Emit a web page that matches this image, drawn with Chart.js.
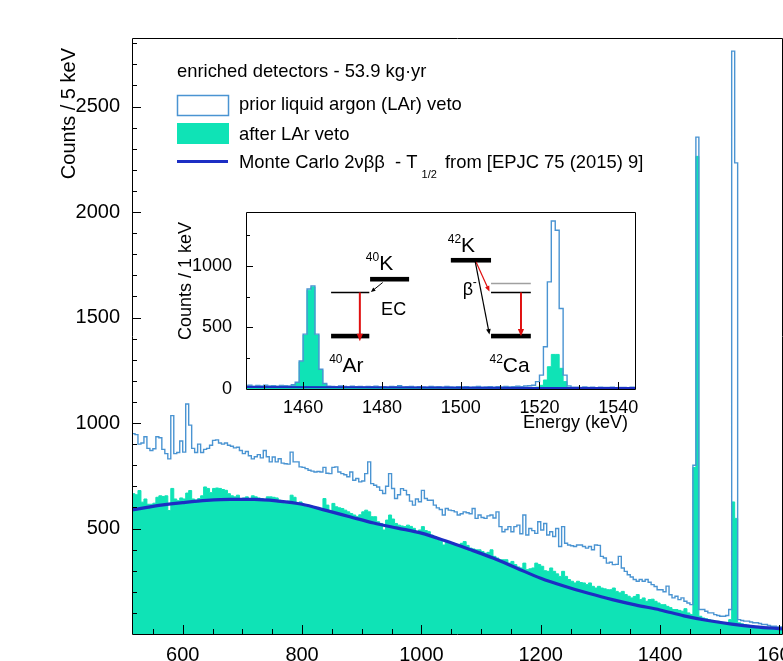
<!DOCTYPE html>
<html>
<head>
<meta charset="utf-8">
<title>Enriched detectors - energy spectrum</title>
<script src="https://cdn.jsdelivr.net/npm/chart.js@4.4.1/dist/chart.umd.min.js"></script>
<style>
  html, body { margin: 0; padding: 0; background: #fff; }
  #wrap { position: relative; width: 783px; height: 661px; overflow: hidden; }
  #mainChart { position: absolute; left: 0; top: 0; }
  #insetChart { position: absolute; left: 140px; top: 195px; }
</style>
</head>
<body>
<div id="wrap">
  <canvas id="mainChart" width="783" height="661"></canvas>
  <canvas id="insetChart" width="510" height="245"></canvas>
</div>
<script>
// main spectrum: 5 keV bins, first bin starts at 515 keV
const binStart = 515;
const binWidth = 5;

// counts / 5 keV before the LAr veto (one row = 10 bins)
const priorCounts = [
  950, 945, 900, 905, 935, 880, 870, 878, 935, 930,    // 515
  875, 855, 830, 1035, 855, 860, 915, 862, 1090, 990,  // 565
  880, 860, 900, 860, 875, 880, 895, 918, 920, 905,    // 615
  900, 905, 895, 890, 882, 885, 870, 855, 865, 845,    // 665
  830, 840, 850, 835, 870, 840, 816, 839, 816, 831,    // 715
  810, 807, 805, 862, 816, 816, 792, 790, 784, 776,    // 765
  772, 768, 770, 768, 790, 762, 760, 790, 792, 768,    // 815
  760, 755, 745, 768, 729, 737, 721, 725, 760, 816,    // 865
  713, 705, 697, 681, 666, 700, 760, 690, 642, 660,    // 915
  689, 681, 660, 630, 611, 640, 627, 681, 642, 634,    // 965
  634, 611, 598, 590, 564, 595, 587, 585, 579, 564,    // 1015
  570, 579, 575, 570, 595, 548, 564, 552, 548, 560,    // 1065
  564, 550, 579, 509, 485, 495, 509, 485, 509, 516,    // 1115
  475, 564, 469, 500, 490, 477, 532, 493, 524, 469,    // 1165
  485, 462, 500, 415, 509, 430, 422, 418, 415, 422,    // 1215
  422, 415, 407, 415, 399, 422, 420, 368, 360, 336,    // 1265
  340, 329, 330, 368, 313, 297, 281, 270, 258, 250,    // 1315
  258, 250, 258, 245, 234, 225, 210, 210, 200, 227,    // 1365
  186, 171, 179, 163, 171, 155, 147, 139, 800, 2355,   // 1415
  116, 116, 108, 100, 100, 92, 88, 84, 84, 88,         // 1465
  116, 2763, 2233, 68, 64, 61, 61, 57, 53, 53,         // 1515
  50, 45, 45, 40, 37, 37, 34, 34, 33                   // 1565
];

// counts / 5 keV after the LAr veto
const vetoCounts = [
  665, 660, 680, 625, 640, 615, 615, 620, 648, 655,    // 515
  652, 655, 585, 690, 640, 632, 645, 640, 668, 680,    // 565
  640, 635, 642, 655, 697, 690, 670, 690, 692, 690,    // 615
  685, 681, 665, 655, 650, 658, 640, 645, 650, 640,    // 665
  655, 650, 645, 642, 634, 650, 650, 648, 645, 634,    // 715
  625, 619, 630, 658, 648, 619, 626, 611, 603, 600,    // 765
  595, 595, 592, 587, 642, 611, 579, 619, 603, 598,    // 815
  595, 587, 579, 571, 564, 556, 565, 579, 587, 579,    // 865
  556, 556, 532, 524, 493, 540, 564, 545, 524, 516,    // 915
  512, 509, 516, 510, 501, 477, 493, 509, 490, 485,    // 965
  469, 462, 446, 440, 422, 438, 434, 430, 422, 415,    // 1015
  430, 438, 420, 407, 403, 399, 399, 391, 383, 387,    // 1065
  399, 368, 360, 352, 352, 352, 336, 344, 329, 318,    // 1115
  313, 336, 305, 309, 313, 336, 329, 321, 300, 297,    // 1165
  313, 297, 285, 273, 297, 273, 258, 250, 242, 250,    // 1215
  244, 242, 234, 242, 226, 218, 226, 218, 214, 210,    // 1265
  210, 218, 202, 195, 202, 187, 179, 171, 178, 187,    // 1315
  163, 171, 155, 163, 165, 155, 147, 139, 139, 131,    // 1365
  125, 116, 116, 112, 108, 120, 100, 92, 789, 2264,    // 1415
  84, 76, 72, 68, 65, 61, 61, 55, 53, 53,              // 1465
  68, 626, 548, 53, 48, 45, 42, 40, 37, 36,            // 1515
  34, 32, 31, 30, 28, 27, 26, 25, 25                   // 1565
];

// Monte Carlo 2nbb expectation (counts / 5 keV)
const mcEnergy = [515, 540, 560, 580, 600, 640, 680, 720, 760, 800, 840, 880, 920, 960, 1000,
                  1040, 1080, 1120, 1160, 1200, 1240, 1280, 1320, 1360, 1400, 1440, 1480, 1520, 1560, 1606];
const mcCounts = [588, 600, 610, 617, 623, 633, 638, 638, 630, 615, 586, 556, 526, 502, 478,
                  442, 402, 360, 312, 264, 226, 193, 163, 137, 114, 86, 64, 47, 34, 24];

// inset: 1 keV bins around the 40K and 42K gamma lines
const insetStart = 1445;
const insetWidth = 1;
const insetPrior = [
  26, 30, 22, 28, 25, 30, 24, 27, 22, 29,        // 1445
  26, 24, 35, 55, 228, 446, 812, 838, 446, 160,  // 1455
  45, 22, 20, 18, 24, 20, 17, 22, 19, 21,        // 1465
  16, 20, 18, 23, 17, 19, 15, 21, 18, 26,        // 1475
  16, 18, 20, 15, 19, 17, 14, 20, 16, 18,        // 1485
  15, 21, 17, 14, 19, 16, 18, 15, 17, 20,        // 1495
  14, 16, 19, 15, 18, 17, 21, 16, 19, 22,        // 1505
  18, 24, 26, 30, 60, 113, 343, 870, 1365, 1290, // 1515
  654, 113, 25, 15, 14, 13, 16, 12, 14, 11,      // 1525
  15, 13, 12, 14, 10, 13, 12, 11, 14, 12         // 1535
];
const insetVeto = [
  20, 24, 17, 22, 19, 25, 18, 21, 16, 23,        // 1445
  20, 18, 30, 50, 221, 438, 803, 830, 438, 154,  // 1455
  40, 16, 14, 12, 17, 13, 11, 15, 12, 14,        // 1465
  10, 13, 12, 16, 11, 13, 9, 14, 12, 18,         // 1475
  10, 12, 14, 9, 13, 11, 8, 13, 10, 12,          // 1485
  9, 14, 11, 8, 12, 10, 12, 9, 11, 13,           // 1495
  8, 10, 12, 9, 11, 10, 13, 9, 11, 12,           // 1505
  10, 12, 11, 13, 15, 30, 73, 181, 281, 281,     // 1515
  168, 60, 15, 9, 8, 7, 9, 6, 8, 6,              // 1525
  9, 7, 6, 8, 5, 7, 6, 6, 8, 7                   // 1535
];
const insetMcEnergy = [1445, 1470, 1500, 1520, 1545];
const insetMcCounts = [17, 14, 11, 9, 8];

// axis tick labels
const mainXTicks = [600, 800, 1000, 1200, 1400, 1600];
const mainYTicks = [500, 1000, 1500, 2000, 2500];
const insetXTicks = [1460, 1480, 1500, 1520, 1540];
const insetYTicks = [0, 500, 1000];

const FONT = '"Liberation Sans", Arimo, Arial, sans-serif';
const TEAL = '#0fe3b6';
const LAR_BLUE = '#4a94d2';
const MC_BLUE = '#1c2ec4';

// histogram as a step line: one point per bin left edge plus the closing edge
function histPoints(start, width, counts) {
  const pts = counts.map((c, i) => ({ x: start + i * width, y: c }));
  pts.push({ x: start + counts.length * width, y: counts[counts.length - 1] });
  return pts;
}

function fixedTicks(values) {
  return scale => { scale.ticks = values.map(v => ({ value: v })); };
}

// ROOT-like frame with inward tick marks
const frameTicks = {
  id: 'frameTicks',
  afterDraw(chart, args, o) {
    const { ctx, chartArea: a, scales: { x, y } } = chart;
    ctx.save();
    ctx.strokeStyle = '#000';
    ctx.lineWidth = 1;
    ctx.beginPath();
    ctx.rect(a.left + 0.5, a.top + 0.5, a.right - a.left - 1, a.bottom - a.top);
    ctx.stroke();
    ctx.beginPath();
    for (let k = Math.ceil(x.min / o.xMinor); k * o.xMinor <= x.max; k++) {
      const v = k * o.xMinor;
      const len = v % o.xMajor === 0 ? o.majorLen : o.minorLen;
      const px = Math.round(x.getPixelForValue(v)) + 0.5;
      ctx.moveTo(px, a.bottom);
      ctx.lineTo(px, a.bottom - len);
    }
    for (let k = Math.ceil(y.min / o.yMinor) + 1; k * o.yMinor < y.max; k++) {
      const v = k * o.yMinor;
      const len = v % o.yMajor === 0 ? o.majorLen : o.minorLen;
      const py = Math.round(y.getPixelForValue(v)) + 0.5;
      ctx.moveTo(a.left, py);
      ctx.lineTo(a.left + len, py);
    }
    ctx.stroke();
    ctx.restore();
  }
};

// legend box and y-axis title of the main spectrum
const mainLegend = {
  id: 'mainLegend',
  afterDraw(chart) {
    const ctx = chart.ctx;
    const [mc, prior, veto] = chart.data.datasets;
    const legendFont = `18.4px ${FONT}`;
    ctx.save();
    ctx.fillStyle = '#000';
    ctx.textBaseline = 'alphabetic';
    ctx.font = legendFont;
    ctx.fillText('enriched detectors - 53.9 kg\u00b7yr', 177, 77);

    ctx.strokeStyle = prior.borderColor;
    ctx.lineWidth = 1.5;
    ctx.strokeRect(177.5, 95.5, 51, 20);
    ctx.fillText(prior.label, 239, 110);

    ctx.fillStyle = veto.backgroundColor;
    ctx.fillRect(177, 123, 52, 21);
    ctx.fillStyle = '#000';
    ctx.fillText(veto.label, 239, 140);

    ctx.strokeStyle = mc.borderColor;
    ctx.lineWidth = 3;
    ctx.beginPath();
    ctx.moveTo(177, 161.5);
    ctx.lineTo(228, 161.5);
    ctx.stroke();
    let tx = 239;
    const head = 'Monte Carlo 2\u03bd\u03b2\u03b2  - T';
    ctx.fillText(head, tx, 168);
    tx += ctx.measureText(head).width;
    ctx.font = `11px ${FONT}`;
    ctx.fillText('1/2', tx + 4, 178);
    tx += ctx.measureText('1/2').width + 7;
    ctx.font = legendFont;
    ctx.fillText(' from [EPJC 75 (2015) 9]', tx, 168);

    ctx.translate(75, 48);
    ctx.rotate(-Math.PI / 2);
    ctx.textAlign = 'right';
    ctx.font = `20px ${FONT}`;
    ctx.fillText('Counts / 5 keV', 0, 0);
    ctx.restore();
  }
};

// white pad behind the inset histograms
const insetPad = {
  id: 'insetPad',
  beforeDatasetsDraw(chart) {
    const { ctx, chartArea: a } = chart;
    ctx.save();
    ctx.fillStyle = '#fff';
    ctx.fillRect(a.left, a.top, a.right - a.left, a.bottom - a.top);
    ctx.restore();
  }
};

// level schemes of 40K (EC) and 42K (beta-), in energy / count coordinates
const scheme = {
  bars: [[1477.0, 1486.9, 892], [1467.1, 1476.8, 430], [1497.5, 1507.7, 1046], [1507.7, 1517.8, 430]],
  levels: [[1467.1, 1476.8, 784, '#000'], [1507.7, 1517.8, 857, '#a0a0a0'], [1507.7, 1517.8, 784, '#000']],
  arrows: [
    [1480.2, 865, 1477.2, 788, '#000', 1, 5],
    [1474.4, 784, 1474.4, 388, '#e01010', 2, 8],
    [1503.9, 1032, 1507.3, 792, '#e01010', 1.2, 6],
    [1503.7, 1032, 1507.3, 442, '#000', 1.2, 6],
    [1515.3, 784, 1515.3, 428, '#e01010', 2, 8]
  ],
  nuclides: [[1479.3, 965, '40', 'K'], [1470.0, 140, '40', 'Ar'], [1500.1, 1113, '42', 'K'], [1510.7, 140, '42', 'Ca']]
};

function arrow(ctx, x1, y1, x2, y2, color, width, head) {
  const ang = Math.atan2(y2 - y1, x2 - x1);
  ctx.strokeStyle = color;
  ctx.fillStyle = color;
  ctx.lineWidth = width;
  ctx.beginPath();
  ctx.moveTo(x1, y1);
  ctx.lineTo(x2 - Math.cos(ang) * head * 0.8, y2 - Math.sin(ang) * head * 0.8);
  ctx.stroke();
  ctx.beginPath();
  ctx.moveTo(x2, y2);
  ctx.lineTo(x2 - head * Math.cos(ang - 0.4), y2 - head * Math.sin(ang - 0.4));
  ctx.lineTo(x2 - head * Math.cos(ang + 0.4), y2 - head * Math.sin(ang + 0.4));
  ctx.closePath();
  ctx.fill();
}

const decayScheme = {
  id: 'decayScheme',
  afterDatasetsDraw(chart) {
    const { ctx, scales: { x, y } } = chart;
    const px = e => x.getPixelForValue(e);
    const py = c => y.getPixelForValue(c);
    ctx.save();
    ctx.lineCap = 'butt';
    for (const [e1, e2, c] of scheme.bars) {
      ctx.fillStyle = '#000';
      ctx.fillRect(px(e1), py(c) - 2.3, px(e2) - px(e1), 4.6);
    }
    for (const [e1, e2, c, col] of scheme.levels) {
      ctx.strokeStyle = col;
      ctx.lineWidth = 1.6;
      ctx.beginPath();
      ctx.moveTo(px(e1), py(c));
      ctx.lineTo(px(e2), py(c));
      ctx.stroke();
    }
    for (const [e1, c1, e2, c2, col, w, h] of scheme.arrows) {
      arrow(ctx, px(e1), py(c1), px(e2), py(c2), col, w, h);
    }
    ctx.fillStyle = '#000';
    ctx.textBaseline = 'alphabetic';
    for (const [e, c, mass, name] of scheme.nuclides) {
      ctx.font = `12px ${FONT}`;
      ctx.textAlign = 'right';
      ctx.fillText(mass, px(e), py(c) - 9);
      ctx.font = `21px ${FONT}`;
      ctx.textAlign = 'left';
      ctx.fillText(name, px(e), py(c));
    }
    ctx.font = `18px ${FONT}`;
    ctx.fillText('EC', px(1479.8), py(600));
    ctx.fillText('\u03b2', px(1500.5), py(765));
    ctx.font = `12px ${FONT}`;
    ctx.fillText('-', px(1500.5) + 10, py(765) - 9);
    ctx.restore();
  }
};

const insetTitles = {
  id: 'insetTitles',
  afterDraw(chart) {
    const ctx = chart.ctx;
    ctx.save();
    ctx.fillStyle = '#000';
    ctx.font = `18px ${FONT}`;
    ctx.textAlign = 'right';
    ctx.textBaseline = 'middle';
    ctx.fillText('Energy (keV)', 488, 228);
    ctx.translate(51, 27);
    ctx.rotate(-Math.PI / 2);
    ctx.textBaseline = 'alphabetic';
    ctx.fillText('Counts / 1 keV', 0, 0);
    ctx.restore();
  }
};

function axis(min, max, ticks, size, padding, fit) {
  return {
    type: 'linear', min, max,
    grid: { display: false },
    border: { display: false },
    afterBuildTicks: fixedTicks(ticks),
    afterFit: fit,
    ticks: {
      color: '#000', padding, autoSkip: false, maxRotation: 0, minRotation: 0,
      font: { family: FONT, size },
      callback: v => String(v)
    }
  };
}

new Chart(document.getElementById('mainChart'), {
  type: 'line',
  data: {
    datasets: [
      {
        label: 'Monte Carlo 2\u03bd\u03b2\u03b2 - T1/2 from [EPJC 75 (2015) 9]',
        data: mcEnergy.map((e, i) => ({ x: e, y: mcCounts[i] })),
        borderColor: MC_BLUE, borderWidth: 3.2, pointRadius: 0,
        cubicInterpolationMode: 'monotone', fill: false
      },
      {
        label: 'prior liquid argon (LAr) veto',
        data: histPoints(binStart, binWidth, priorCounts),
        borderColor: LAR_BLUE, borderWidth: 1.4, pointRadius: 0, stepped: 'before', fill: false
      },
      {
        label: 'after LAr veto',
        data: histPoints(binStart, binWidth, vetoCounts),
        borderColor: TEAL, backgroundColor: TEAL, borderWidth: 1, pointRadius: 0,
        stepped: 'before', fill: 'origin'
      }
    ]
  },
  options: {
    responsive: false,
    animation: false,
    events: [],
    layout: { padding: { left: 0, top: 38, right: 0, bottom: 0 } },
    scales: {
      x: axis(515, 1606, mainXTicks, 20, 1, s => { s.height = 27; s.paddingLeft = 0; s.paddingRight = 0; }),
      y: axis(0, 2825, mainYTicks, 20, 4, s => { s.width = 132; s.paddingTop = 0; s.paddingBottom = 0; })
    },
    plugins: {
      legend: { display: false },
      tooltip: { enabled: false },
      frameTicks: { xMinor: 50, xMajor: 200, yMinor: 100, yMajor: 500, majorLen: 9, minorLen: 5 }
    }
  },
  plugins: [frameTicks, mainLegend]
});

new Chart(document.getElementById('insetChart'), {
  type: 'line',
  data: {
    datasets: [
      {
        label: 'Monte Carlo',
        data: insetMcEnergy.map((e, i) => ({ x: e, y: insetMcCounts[i] })),
        borderColor: MC_BLUE, borderWidth: 2, pointRadius: 0, fill: false
      },
      {
        label: 'prior liquid argon (LAr) veto',
        data: histPoints(insetStart, insetWidth, insetPrior),
        borderColor: LAR_BLUE, borderWidth: 1.4, pointRadius: 0, stepped: 'before', fill: false
      },
      {
        label: 'after LAr veto',
        data: histPoints(insetStart, insetWidth, insetVeto),
        borderColor: TEAL, backgroundColor: TEAL, borderWidth: 1, pointRadius: 0,
        stepped: 'before', fill: 'origin'
      }
    ]
  },
  options: {
    responsive: false,
    animation: false,
    events: [],
    layout: { padding: { left: 0, top: 17, right: 14, bottom: 0 } },
    scales: {
      x: axis(1445.5, 1544.5, insetXTicks, 18, 0, s => { s.height = 51; s.paddingLeft = 0; s.paddingRight = 0; }),
      y: axis(0, 1438, insetYTicks, 18, 6, s => { s.width = 106; s.paddingTop = 0; s.paddingBottom = 0; })
    },
    plugins: {
      legend: { display: false },
      tooltip: { enabled: false },
      frameTicks: { xMinor: 10, xMajor: 20, yMinor: 250, yMajor: 500, majorLen: 7, minorLen: 4 }
    }
  },
  plugins: [insetPad, frameTicks, decayScheme, insetTitles]
});
</script>
</body>
</html>
